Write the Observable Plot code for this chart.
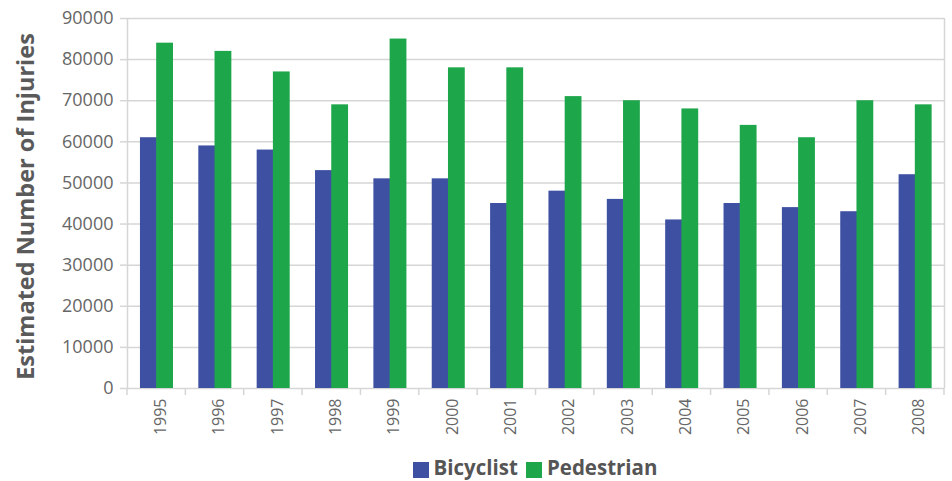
<!DOCTYPE html>
<html>
<head>
<meta charset="utf-8">
<script src="https://cdn.jsdelivr.net/npm/d3@7"></script>
<script src="https://cdn.jsdelivr.net/npm/@observablehq/plot@0.6"></script>
<style>
  body { margin: 0; background: #fff; font-family: "Open Sans", sans-serif; position: relative; width: 952px; height: 481px; overflow: hidden; }
  #legend { position: absolute; top: 455px; left: 0; width: 952px; height: 24px; display: flex; justify-content: center; align-items: center; gap: 8px;
            font-weight: bold; font-size: 20.5px; line-height: 24px; color: #555; padding-left: 118px; box-sizing: border-box; }
  #legend .sw { display: inline-block; width: 16px; height: 16px; margin-right: 5px; margin-top: 5px; }
  #legend .item { display: flex; align-items: center; }
</style>
</head>
<body>
<div id="chart"></div>
<div id="legend"></div>
<script>
const years = ["1995","1996","1997","1998","1999","2000","2001","2002","2003","2004","2005","2006","2007","2008"];
const bicyclist = [61000,59000,58000,53000,51000,51000,45000,48000,46000,41000,45000,44000,43000,52000];
const pedestrian = [84000,82000,77000,69000,85000,78000,78000,71000,70000,68000,64000,61000,70000,69000];
const seriesNames = ["Bicyclist","Pedestrian"];
const seriesColors = ["#3e50a2","#1ea64b"];
const yTicks = [0,10000,20000,30000,40000,50000,60000,70000,80000,90000];
const yTitle = "Estimated Number of Injuries";

const W = 952, H = 455, mL = 127, mR = 8, mT = 18, mB = H - 388;
const bw = (W - mL - mR) / years.length;

const bikeData = years.map((y, i) => ({year: y, value: bicyclist[i]}));
const pedData = years.map((y, i) => ({year: y, value: pedestrian[i]}));

const gridColor = "#d6d6d6";

const boundaryTicks = (index, scales, values, dims) => {
  const x = scales.x;
  const b = x.bandwidth();
  const dom = x.domain();
  const xs = dom.map(d => x(d)).concat([x(dom[dom.length - 1]) + b]);
  const yb = dims.height - dims.marginBottom;
  const g = d3.create("svg:g");
  g.selectAll("line").data(xs).join("line")
    .attr("x1", d => d).attr("x2", d => d)
    .attr("y1", yb).attr("y2", yb + 7)
    .attr("stroke", gridColor).attr("stroke-width", 1.5);
  return g.node();
};

const chart = Plot.plot({
  width: W, height: H,
  marginLeft: mL, marginRight: mR, marginTop: mT, marginBottom: mB,
  style: {fontFamily: "Open Sans, sans-serif", background: "#fff"},
  x: {domain: years, padding: 0, round: false},
  y: {domain: [0, 90000]},
  marks: [
    Plot.gridY(yTicks, {stroke: gridColor, strokeOpacity: 1, strokeWidth: 1.5}),
    Plot.ruleX([years[0]], {stroke: gridColor, strokeWidth: 1.5, dx: -bw / 2}),
    Plot.ruleX([years[years.length - 1]], {stroke: gridColor, strokeWidth: 1.5, dx: bw / 2}),
    Plot.barY(bikeData, {x: "year", y: "value", fill: seriesColors[0], insetLeft: bw * 0.222, insetRight: bw * 0.5 - 0.7}),
    Plot.barY(pedData, {x: "year", y: "value", fill: seriesColors[1], insetLeft: bw * 0.5, insetRight: bw * 0.212}),
    Plot.axisY(yTicks, {tickFormat: d3.format("d"), tickSize: 7, tickPadding: 7, stroke: gridColor, strokeWidth: 1.5,
      fontSize: 18, fill: "#666", label: null}),
    Plot.axisX({tickRotate: -90, tickSize: 0, tickPadding: 10, dx: 4, fontSize: 16, fill: "#666", label: null}),
    boundaryTicks,
    Plot.text([yTitle], {frameAnchor: "left", textAnchor: "middle", dx: -101, dy: 3, rotate: -90, text: d => d,
      fontSize: 23.5, fontWeight: "bold", fill: "#5a5a5a"})
  ]
});
document.getElementById("chart").appendChild(chart);

const legend = document.getElementById("legend");
seriesNames.forEach((n, i) => {
  const item = document.createElement("span");
  item.className = "item";
  item.innerHTML = `<span class="sw" style="background:${seriesColors[i]}"></span>${n}`;
  legend.appendChild(item);
});
</script>
</body>
</html>
